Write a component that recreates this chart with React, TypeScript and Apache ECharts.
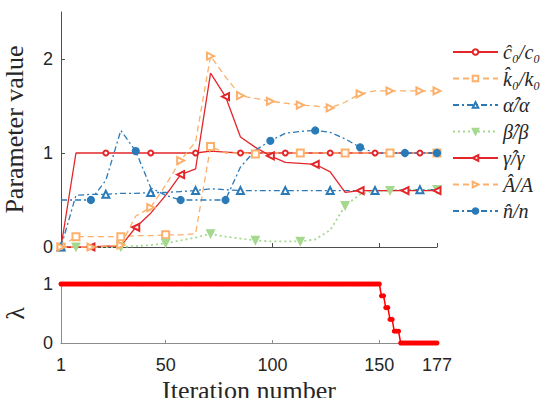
import React, { useEffect, useRef } from "react";
import * as echarts from "echarts";

// ---------- data ----------
const topIterations = [1, 8, 15, 22, 29, 36, 43, 50, 57, 64, 71, 78, 85, 92, 99, 106, 113, 120, 127, 134, 141, 148, 155, 162, 169, 177];

const c0Ratio = [0, 1.0, 1.0, 1.0, 1.0, 1.0, 1.0, 1.0, 1.0, 1.0, 1.02, 1.01, 1.0, 1.0, 1.0, 1.0, 1.0, 1.0, 1.0, 1.0, 1.0, 1.0, 1.0, 1.0, 1.0, 1.0];
const k0Ratio = [0, 0.11, 0.11, 0.11, 0.11, 0.12, 0.12, 0.13, 0.13, 0.14, 1.07, 1.0, 1.0, 0.99, 1.0, 1.0, 1.0, 1.0, 1.0, 1.0, 1.0, 1.0, 1.0, 1.0, 1.0, 1.0];
const alphaRatio = [0, 0.55, 0.56, 0.56, 0.57, 0.57, 0.58, 0.58, 0.59, 0.6, 0.62, 0.61, 0.6, 0.6, 0.6, 0.6, 0.6, 0.6, 0.6, 0.6, 0.6, 0.6, 0.6, 0.61, 0.61, 0.61];
const betaRatio = [0, 0, 0, 0, 0, 0.01, 0.02, 0.04, 0.07, 0.1, 0.14, 0.11, 0.09, 0.07, 0.06, 0.06, 0.06, 0.08, 0.18, 0.44, 0.56, 0.6, 0.6, 0.61, 0.61, 0.61];
const gammaRatio = [0, 0, 0, 0.01, 0.01, 0.21, 0.36, 0.55, 0.77, 0.83, 1.85, 1.6, 1.17, 1.06, 0.97, 0.9, 0.89, 0.88, 0.8, 0.58, 0.6, 0.6, 0.6, 0.6, 0.6, 0.6];
const aRatio = [0, 0, 0, 0.01, 0.02, 0.33, 0.42, 0.66, 0.92, 1.12, 2.03, 1.81, 1.61, 1.58, 1.55, 1.53, 1.51, 1.5, 1.48, 1.54, 1.63, 1.66, 1.66, 1.66, 1.66, 1.66];
const nRatio = [0.5, 0.5, 0.5, 0.71, 1.24, 1.02, 0.63, 0.55, 0.5, 0.5, 0.5, 0.5, 0.85, 1.03, 1.13, 1.21, 1.23, 1.24, 1.22, 1.15, 1.06, 1.0, 1.0, 1.0, 1.0, 1.0];

// lambda per iteration, run-length encoded: [number of iterations, value]
const lambdaRuns: [number, number][] = [[150, 1], [2, 0.8], [2, 0.6], [2, 0.4], [3, 0.2], [18, 0]];

const xTickValues = [1, 50, 100, 150, 177];
const topXTickMarks = [50, 100, 150, 177];
const bottomXTickMarks = [50, 100, 150];
const topYTicks = [0, 1, 2];
const bottomYTicks = [0, 1];

const seriesNames = ["ĉ₀/c₀", "k̂₀/k₀", "α̂/α", "β̂/β", "γ̂/γ", "Â/A", "n̂/n"];

// indices of the points that carry a marker
const markEvery3From0 = [0, 3, 6, 9, 12, 15, 18, 21, 24];
const markEvery3From1 = [0, 1, 4, 7, 10, 13, 16, 19, 22, 25];
const markBetaIdx = [1, 4, 7, 10, 13, 16, 19, 22, 25];
const markEvery3From2 = [2, 5, 8, 11, 14, 17, 20, 23, 25];
const markEven = [0, 2, 4, 6, 8, 10, 12, 14, 16, 18, 20, 22, 24, 25];

const RED = "#e3262a";
const ORANGE = "#fdb06b";
const BLUE = "#2a7ab8";
const GREEN = "#a5d98f";
const LAMBDA_RED = "#ff0000";

function pts(values: number[], marks: number[]) {
  return values.map((v, i) =>
    marks.includes(i) ? [topIterations[i], v] : { value: [topIterations[i], v], symbol: "none" }
  );
}

function expandRuns(runs: [number, number][]) {
  const out: number[][] = [];
  let it = 1;
  for (const [count, val] of runs) {
    for (let k = 0; k < count; k++) {
      out.push([it, val]);
      it++;
    }
  }
  return out;
}

const TICK_FONT = "Liberation Sans";
const SERIF = "Liberation Serif";

export default function App() {
  const ref = useRef<HTMLDivElement>(null);
  useEffect(() => {
    if (!ref.current) return;
    const chart = echarts.init(ref.current, undefined, { renderer: "svg" });

    const lineSeries = (
      name: string,
      data: any[],
      color: string,
      lineType: any,
      symbol: string,
      symbolSize: number,
      extra: any = {}
    ) => ({
      name,
      type: "line",
      xAxisIndex: 0,
      yAxisIndex: 0,
      data,
      symbol,
      symbolSize,
      showAllSymbol: true,
      clip: false,
      lineStyle: { color, width: 1.3, type: lineType },
      itemStyle: { color, borderColor: color, borderWidth: 1.2 },
      emphasis: { disabled: true },
      ...extra,
    });

    const option: any = {
      animation: false,
      backgroundColor: "#ffffff",
      grid: [
        { left: 61, top: 12, width: 376, height: 235, containLabel: false, outerBoundsMode: "none" },
        { left: 61, top: 284, width: 376, height: 59, containLabel: false, outerBoundsMode: "none" },
      ],
      legend: {
        orient: "vertical",
        left: 452,
        top: 42,
        itemWidth: 45,
        itemHeight: 7,
        itemGap: 6.5,
        padding: 0,
        textStyle: {
          fontFamily: SERIF,
          fontStyle: "italic",
          fontSize: 20,
          color: "#262626",
        },
        data: seriesNames,
      },
      xAxis: [
        {
          gridIndex: 0,
          type: "value",
          min: 1,
          max: 177,
          axisLine: { show: true, lineStyle: { color: "#4d4d4d", width: 1 } },
          axisTick: { show: true, inside: true, length: 4, customValues: topXTickMarks, lineStyle: { color: "#4d4d4d" } },
          axisLabel: { show: false },
          splitLine: { show: false },
        },
        {
          gridIndex: 1,
          type: "value",
          min: 1,
          max: 177,
          axisLine: { show: true, lineStyle: { color: "#8c8c8c", width: 1 } },
          axisTick: { show: true, inside: true, length: 3, customValues: bottomXTickMarks, lineStyle: { color: "#8c8c8c" } },
          axisLabel: {
            show: true,
            customValues: xTickValues,
            margin: 13,
            fontFamily: TICK_FONT,
            fontSize: 18,
            color: "#262626",
          },
          splitLine: { show: false },
          name: "Iteration number",
          nameLocation: "middle",
          nameGap: 34,
          nameTextStyle: { fontFamily: SERIF, fontSize: 26, color: "#262626" },
        },
      ],
      yAxis: [
        {
          gridIndex: 0,
          type: "value",
          min: 0,
          max: 2.5,
          axisLine: { show: true, lineStyle: { color: "#4d4d4d", width: 1 } },
          axisTick: { show: true, inside: true, length: 4, customValues: topYTicks, lineStyle: { color: "#4d4d4d" } },
          axisLabel: {
            show: true,
            customValues: topYTicks,
            margin: 8,
            fontFamily: TICK_FONT,
            fontSize: 18,
            color: "#262626",
          },
          splitLine: { show: false },
          name: "Parameter value",
          nameLocation: "middle",
          nameGap: 34,
          nameTextStyle: { fontFamily: SERIF, fontSize: 26, color: "#262626" },
        },
        {
          gridIndex: 1,
          type: "value",
          min: 0,
          max: 1,
          axisLine: { show: true, lineStyle: { color: "#8c8c8c", width: 1 } },
          axisTick: { show: false },
          axisLabel: {
            show: true,
            customValues: bottomYTicks,
            margin: 8,
            fontFamily: TICK_FONT,
            fontSize: 18,
            color: "#262626",
          },
          splitLine: { show: false },
          name: "λ",
          nameLocation: "middle",
          nameGap: 33,
          nameRotate: 90,
          nameTextStyle: { fontFamily: SERIF, fontSize: 26, color: "#262626" },
        },
      ],
      series: [
        lineSeries(seriesNames[0], pts(c0Ratio, markEvery3From0), RED, "solid", "emptyCircle", 5),
        lineSeries(seriesNames[1], pts(k0Ratio, markEvery3From1), ORANGE, [6, 4], "emptyRect", 7),
        lineSeries(seriesNames[2], pts(alphaRatio, markEvery3From0), BLUE, [6, 3, 2, 3], "emptyTriangle", 7),
        lineSeries(seriesNames[3], pts(betaRatio, markBetaIdx), GREEN, [2, 3], "triangle", 8, {
          symbolRotate: 180,
          lineStyle: { color: GREEN, width: 1.8, type: [2, 3] },
        }),
        lineSeries(seriesNames[4], pts(gammaRatio, markEvery3From2), RED, "solid", "emptyTriangle", 7, {
          symbolRotate: 90,
        }),
        lineSeries(seriesNames[5], pts(aRatio, markEven), ORANGE, [6, 4], "emptyTriangle", 7, {
          symbolRotate: -90,
        }),
        lineSeries(seriesNames[6], pts(nRatio, markEvery3From2), BLUE, [6, 3, 2, 3], "circle", 7),
        {
          name: "lambda",
          type: "line",
          xAxisIndex: 1,
          yAxisIndex: 1,
          data: expandRuns(lambdaRuns),
          symbol: "circle",
          symbolSize: 5,
          showAllSymbol: true,
          clip: false,
          lineStyle: { color: LAMBDA_RED, width: 1.5 },
          itemStyle: { color: LAMBDA_RED },
          emphasis: { disabled: true },
        },
      ],
    };

    chart.setOption(option);
    return () => chart.dispose();
  }, []);

  return (
    <div
      ref={ref}
      style={{ position: "absolute", left: 0, top: 0, width: 544, height: 398, background: "#fff" }}
    />
  );
}
